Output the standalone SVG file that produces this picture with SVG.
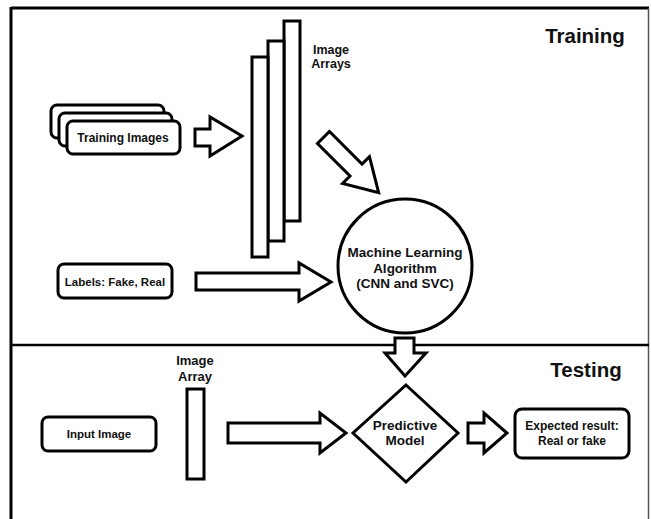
<svg xmlns="http://www.w3.org/2000/svg" width="651" height="519" viewBox="0 0 651 519">
<style>
.s{fill:#fff;stroke:#000;stroke-width:3;stroke-linejoin:miter}
.r{fill:#fff;stroke:#000;stroke-width:3}
.t{font-family:"Liberation Sans",Arial,sans-serif;font-weight:bold;fill:#111;text-anchor:middle}
.h{font-family:"Liberation Sans",Arial,sans-serif;font-weight:bold;fill:#111;text-anchor:middle;font-size:20.5px}
</style>
<rect width="651" height="519" fill="#fff"/>
<g id="frame">
<line x1="11" y1="8" x2="649" y2="8" stroke="#000" stroke-width="3"/>
<line x1="11" y1="7" x2="11" y2="519" stroke="#000" stroke-width="3"/>
<line x1="648.5" y1="8" x2="648.5" y2="519" stroke="#555" stroke-width="1.5"/>
<line x1="11" y1="345" x2="649" y2="345" stroke="#000" stroke-width="2.5"/>
</g>
<g id="section-training"><text class="h" x="585" y="43">Training</text></g>
<g id="section-testing"><text class="h" x="586" y="377">Testing</text></g>
<g id="training-images">
<rect class="r" x="51" y="105" width="113" height="33" rx="6"/>
<rect class="r" x="59" y="113" width="113" height="33" rx="6"/>
<rect class="r" x="67" y="121" width="113" height="33" rx="6"/>
<text class="t" x="123" y="141.5" font-size="12">Training Images</text>
</g>
<g id="image-arrays">
<rect class="s" x="284" y="21" width="16" height="200"/>
<rect class="s" x="268" y="41" width="16" height="200"/>
<rect class="s" x="252" y="57" width="16" height="200"/>
<text class="t" x="331" y="54" font-size="12.5">Image</text>
<text class="t" x="331" y="68" font-size="12.5">Arrays</text>
</g>
<g id="labels">
<rect class="r" x="58" y="264" width="114" height="34" rx="6"/>
<text class="t" x="115" y="286" font-size="11.5">Labels: Fake, Real</text>
</g>
<g id="ml-algorithm">
<circle class="s" cx="405" cy="266" r="67"/>
<text class="t" x="405" y="257" font-size="13.5">Machine Learning</text>
<text class="t" x="405" y="272.5" font-size="13.5">Algorithm</text>
<text class="t" x="405" y="288" font-size="13.5">(CNN and SVC)</text>
</g>
<g id="input-image">
<rect class="r" x="42" y="417" width="114" height="34" rx="6"/>
<text class="t" x="99" y="438" font-size="11.5">Input Image</text>
</g>
<g id="image-array">
<rect class="s" x="187" y="389" width="17" height="90"/>
<text class="t" x="195" y="365" font-size="13">Image</text>
<text class="t" x="195" y="381" font-size="13">Array</text>
</g>
<g id="predictive-model">
<polygon class="s" points="406,385 458,433 406,482 353,433"/>
<text class="t" x="405" y="430" font-size="13.5">Predictive</text>
<text class="t" x="405" y="445" font-size="13.5">Model</text>
</g>
<g id="expected-result">
<rect class="r" x="515" y="409" width="114" height="49" rx="7"/>
<text class="t" x="572" y="430" font-size="12">Expected result:</text>
<text class="t" x="572" y="445" font-size="12">Real or fake</text>
</g>
<g id="connectors">
<polygon class="s" points="195,129 210,129 210,117 242,136 210,156 210,146 195,146"/>
<polygon class="s" transform="translate(323.5,137.5) rotate(45)" points="0,-8.5 46,-8.5 46,-19 78,0 46,19 46,8.5 0,8.5"/>
<polygon class="s" points="196,273 299,273 299,263 331,282 299,301 299,290 196,290"/>
<polygon class="s" points="395,338 414,338 414,353 426,353 405,376 385,353 395,353"/>
<polygon class="s" points="228,423 320,423 320,413 346,433 320,453 320,443 228,443"/>
<polygon class="s" points="468,423 484,423 484,413 507,433 484,453 484,443 468,443"/>
</g>
</svg>
